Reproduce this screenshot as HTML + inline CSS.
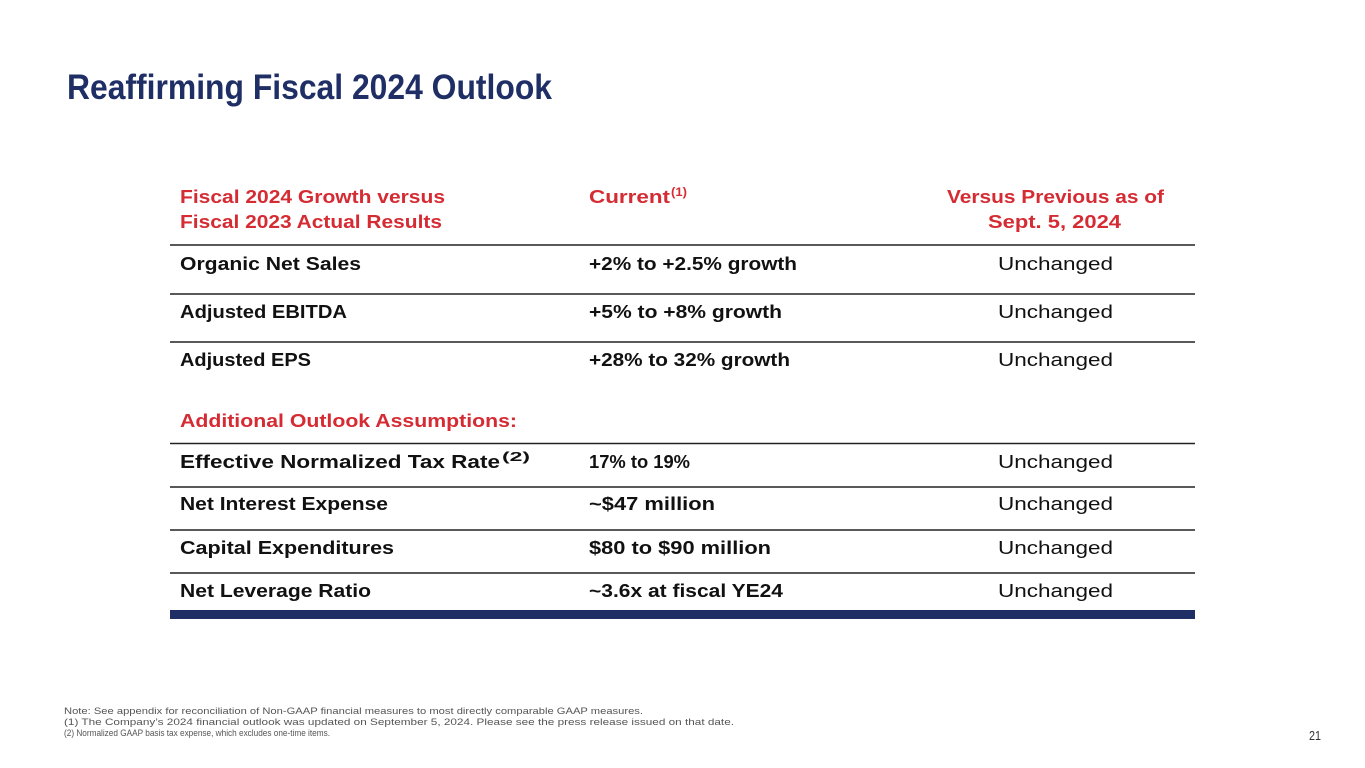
<!DOCTYPE html>
<html><head><meta charset="utf-8"><style>
html,body{margin:0;padding:0;background:#fff;}
svg{display:block;font-family:"Liberation Sans",sans-serif;}
.h{fill:#d52b33;font-weight:bold;font-size:18px;}
.b{fill:#111;font-weight:bold;font-size:18px;}
.r{fill:#111;font-size:18px;}
.n{fill:#555;font-size:9.5px;}
.sup{font-size:12px;}
</style></head><body>
<svg width="1365" height="768" viewBox="0 0 1365 768">
<text x="67" y="99" font-size="35" font-weight="bold" fill="#1f2f66" textLength="485" lengthAdjust="spacingAndGlyphs">Reaffirming Fiscal 2024 Outlook</text>

<g>
<text class="h" x="180" y="203" textLength="265" lengthAdjust="spacingAndGlyphs">Fiscal 2024 Growth versus</text>
<text class="h" x="180" y="228" textLength="262" lengthAdjust="spacingAndGlyphs">Fiscal 2023 Actual Results</text>
<text class="h" x="589" y="203" textLength="81" lengthAdjust="spacingAndGlyphs">Current</text>
<text class="h sup" x="671" y="196" style="font-size:12px" textLength="16" lengthAdjust="spacingAndGlyphs">(1)</text>
<text class="h" x="947" y="203" textLength="217" lengthAdjust="spacingAndGlyphs">Versus Previous as of</text>
<text class="h" x="988" y="228" textLength="133" lengthAdjust="spacingAndGlyphs">Sept. 5, 2024</text>
</g>

<g stroke="#222" stroke-width="1.5">
<line x1="170" x2="1195" y1="245" y2="245"/>
<line x1="170" x2="1195" y1="294" y2="294"/>
<line x1="170" x2="1195" y1="342" y2="342"/>
<line x1="170" x2="1195" y1="443.5" y2="443.5"/>
<line x1="170" x2="1195" y1="487" y2="487"/>
<line x1="170" x2="1195" y1="530" y2="530"/>
<line x1="170" x2="1195" y1="573" y2="573"/>
</g>
<rect x="170" y="610" width="1025" height="9" fill="#1f2f66"/>

<g>
<text class="b" x="180" y="270" textLength="181" lengthAdjust="spacingAndGlyphs">Organic Net Sales</text>
<text class="b" x="589" y="270" textLength="208" lengthAdjust="spacingAndGlyphs">+2% to +2.5% growth</text>
<text class="r" x="998" y="270" textLength="115" lengthAdjust="spacingAndGlyphs">Unchanged</text>
</g>
<g>
<text class="b" x="180" y="318" textLength="167" lengthAdjust="spacingAndGlyphs">Adjusted EBITDA</text>
<text class="b" x="589" y="318" textLength="193" lengthAdjust="spacingAndGlyphs">+5% to +8% growth</text>
<text class="r" x="998" y="318" textLength="115" lengthAdjust="spacingAndGlyphs">Unchanged</text>
</g>
<g>
<text class="b" x="180" y="366" textLength="131" lengthAdjust="spacingAndGlyphs">Adjusted EPS</text>
<text class="b" x="589" y="366" textLength="201" lengthAdjust="spacingAndGlyphs">+28% to 32% growth</text>
<text class="r" x="998" y="366" textLength="115" lengthAdjust="spacingAndGlyphs">Unchanged</text>
</g>
<text class="h" x="180" y="427" textLength="337" lengthAdjust="spacingAndGlyphs">Additional Outlook Assumptions:</text>
<g>
<text class="b" x="180" y="468" textLength="320" lengthAdjust="spacingAndGlyphs">Effective Normalized Tax Rate</text>
<text class="b" x="502" y="461" style="font-size:12.5px" textLength="28" lengthAdjust="spacingAndGlyphs">(2)</text>
<text class="b" x="589" y="468" textLength="101" lengthAdjust="spacingAndGlyphs">17% to 19%</text>
<text class="r" x="998" y="468" textLength="115" lengthAdjust="spacingAndGlyphs">Unchanged</text>
</g>
<g>
<text class="b" x="180" y="510" textLength="208" lengthAdjust="spacingAndGlyphs">Net Interest Expense</text>
<text class="b" x="589" y="510" textLength="126" lengthAdjust="spacingAndGlyphs">~$47 million</text>
<text class="r" x="998" y="510" textLength="115" lengthAdjust="spacingAndGlyphs">Unchanged</text>
</g>
<g>
<text class="b" x="180" y="554" textLength="214" lengthAdjust="spacingAndGlyphs">Capital Expenditures</text>
<text class="b" x="589" y="554" textLength="182" lengthAdjust="spacingAndGlyphs">$80 to $90 million</text>
<text class="r" x="998" y="554" textLength="115" lengthAdjust="spacingAndGlyphs">Unchanged</text>
</g>
<g>
<text class="b" x="180" y="597" textLength="191" lengthAdjust="spacingAndGlyphs">Net Leverage Ratio</text>
<text class="b" x="589" y="597" textLength="194" lengthAdjust="spacingAndGlyphs">~3.6x at fiscal YE24</text>
<text class="r" x="998" y="597" textLength="115" lengthAdjust="spacingAndGlyphs">Unchanged</text>
</g>

<g>
<text class="n" x="64" y="714" textLength="579" lengthAdjust="spacingAndGlyphs">Note: See appendix for reconciliation of Non-GAAP financial measures to most directly comparable GAAP measures.</text>
<text class="n" x="64" y="725" textLength="670" lengthAdjust="spacingAndGlyphs">(1) The Company’s 2024 financial outlook was updated on September 5, 2024. Please see the press release issued on that date.</text>
<text class="n" x="64" y="736" textLength="266" lengthAdjust="spacingAndGlyphs">(2) Normalized GAAP basis tax expense, which excludes one-time items.</text>
</g>
<text x="1309" y="740" font-size="13" fill="#333" textLength="12" lengthAdjust="spacingAndGlyphs">21</text>
</svg>
</body></html>
